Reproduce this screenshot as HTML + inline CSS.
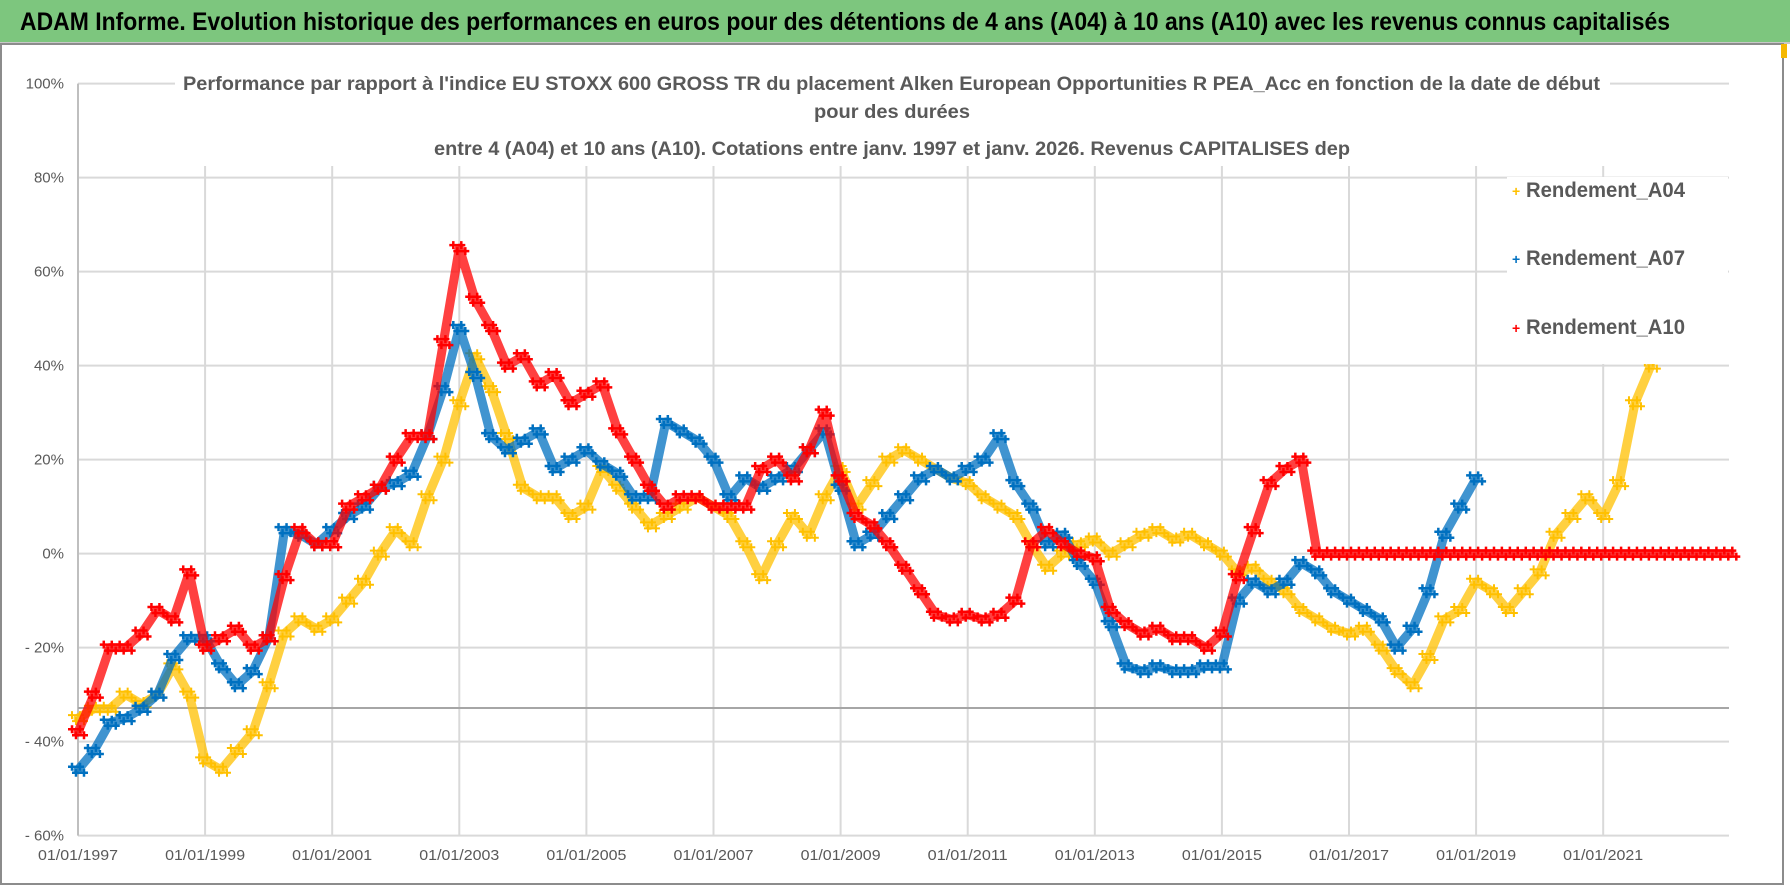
<!DOCTYPE html>
<html><head><meta charset="utf-8">
<style>
html,body{margin:0;padding:0;background:#fff;}
svg{display:block;font-family:"Liberation Sans",sans-serif;}
</style></head>
<body>
<svg id="chart" width="1790" height="886" viewBox="0 0 1790 886" xmlns="http://www.w3.org/2000/svg">
<rect x="0" y="0" width="1790" height="886" fill="#fff"/>
<rect x="0" y="0" width="1790" height="43" fill="#7dc67e"/>
<line x1="0" y1="43" x2="1790" y2="43" stroke="#c8c8c8" stroke-width="2"/>
<text x="20" y="30" font-size="25" font-weight="bold" fill="#000" textLength="1650" lengthAdjust="spacingAndGlyphs">ADAM Informe. Evolution historique des performances en euros pour des détentions de 4 ans (A04) à 10 ans (A10) avec les revenus connus capitalisés</text>
<rect x="1" y="44" width="1782" height="840" fill="none" stroke="#8c8c8c" stroke-width="2"/>
<rect x="1781" y="44" width="6" height="14" fill="#f5b800"/>
<g id="grid"></g>
<line x1="78" y1="708" x2="1729" y2="708" stroke="#a6a6a6" stroke-width="2"/>
<g id="yticks"></g>
<g id="xticks"></g>
<g id="series"></g>
<rect x="175" y="66" width="1435" height="100" fill="#fff"/>
<text x="183" y="90" font-size="19" font-weight="bold" fill="#595959" textLength="1417" lengthAdjust="spacingAndGlyphs">Performance par rapport à l'indice EU STOXX 600 GROSS TR  du placement Alken European Opportunities R PEA_Acc en fonction de la date de début</text>
<text x="814" y="118" font-size="19" font-weight="bold" fill="#595959" textLength="156" lengthAdjust="spacingAndGlyphs">pour des durées</text>
<text x="434" y="155" font-size="19" font-weight="bold" fill="#595959" textLength="916" lengthAdjust="spacingAndGlyphs">entre 4 (A04) et 10 ans (A10).  Cotations entre janv. 1997 et janv. 2026. Revenus CAPITALISES dep</text>
<g>
<rect x="1507" y="177" width="221" height="187" fill="#fff"/>
<g><text x="1512" y="196" font-size="14" fill="#ffc000" font-weight="bold">+</text><text x="1526" y="197" font-size="21" font-weight="bold" fill="#595959" textLength="159" lengthAdjust="spacingAndGlyphs">Rendement_A04</text></g>
<g><text x="1512" y="264" font-size="14" fill="#0070c0" font-weight="bold">+</text><text x="1526" y="265" font-size="21" font-weight="bold" fill="#595959" textLength="159" lengthAdjust="spacingAndGlyphs">Rendement_A07</text></g>
<g><text x="1512" y="333" font-size="14" fill="#ff0000" font-weight="bold">+</text><text x="1526" y="334" font-size="21" font-weight="bold" fill="#595959" textLength="159" lengthAdjust="spacingAndGlyphs">Rendement_A10</text></g>
</g>
</svg>
<script>
const yTickValues = [-60,-40,-20,0,20,40,60,80,100];
const yTickLabels = ["- 60%","- 40%","- 20%","0%","20%","40%","60%","80%","100%"];
const xTickYears = [1997,1999,2001,2003,2005,2007,2009,2011,2013,2015,2017,2019,2021];
const xTickLabels = ["01/01/1997","01/01/1999","01/01/2001","01/01/2003","01/01/2005","01/01/2007","01/01/2009","01/01/2011","01/01/2013","01/01/2015","01/01/2017","01/01/2019","01/01/2021"];
const startYear = 1997;
const stepYears = 0.25;
const a04Values = [-35,-33,-33,-30,-32,-30,-24,-30,-44,-46,-42,-38,-28,-17,-14,-16,-14,-10,-6,0,5,2,12,20,32,42,35,25,14,12,12,8,10,18,14,10,6,8,10,12,10,8,2,-5,2,8,4,12,18,10,15,20,22,20,18,16,15,12,10,8,2,-3,0,2,3,0,2,4,5,3,4,2,0,-4,-3,-6,-8,-12,-14,-16,-17,-16,-20,-25,-28,-22,-14,-12,-6,-8,-12,-8,-4,4,8,12,8,15,32,40];
const a07Values = [-46,-42,-36,-35,-33,-30,-22,-18,-18,-24,-28,-25,-18,5,4,2,5,8,10,14,15,17,25,35,48,38,25,22,24,26,18,20,22,19,17,12,12,28,26,24,20,12,16,14,16,18,22,26,14,2,4,8,12,16,18,16,18,20,25,15,10,2,4,-2,-6,-15,-24,-25,-24,-25,-25,-24,-24,-10,-6,-8,-6,-2,-4,-8,-10,-12,-14,-20,-16,-8,4,10,16];
const a10Values = [-38,-30,-20,-20,-17,-12,-14,-4,-20,-18,-16,-20,-18,-5,5,2,2,10,12,14,20,25,25,45,65,54,48,40,42,36,38,32,34,36,26,20,14,10,12,12,10,10,10,18,20,16,22,30,16,8,6,2,-3,-8,-13,-14,-13,-14,-13,-10,2,5,2,0,-1,-12,-15,-17,-16,-18,-18,-20,-17,-5,5,15,18,20,0,0,0,0,0,0,0,0,0,0,0,0,0,0,0,0,0,0,0,0,0,0,0,0,0,0,0];

const NS="http://www.w3.org/2000/svg";
const X0=78, X1=1729, PXYEAR=63.55, Y0=553.6, PXPCT=4.7;
function xScale(year){return X0+(year-1997)*PXYEAR;}
function yScale(v){return Y0-v*PXPCT;}
function mk(tag,attrs,parent){const e=document.createElementNS(NS,tag);for(const k in attrs)e.setAttribute(k,attrs[k]);parent.appendChild(e);return e;}

const grid=document.getElementById('grid');
yTickValues.forEach(v=>{
  const l=mk('line',{x1:X0,x2:X1,y1:yScale(v),y2:yScale(v),stroke:'#d9d9d9','stroke-width':2},grid);
  
  
});
xTickYears.forEach(y=>{
  if(y===1997)return;
  const l=mk('line',{x1:xScale(y),x2:xScale(y),y1:yScale(100),y2:yScale(-60),stroke:'#d9d9d9','stroke-width':2},grid);
  
  
});
const ax=mk('line',{x1:X0,x2:X0,y1:yScale(100),y2:yScale(-60),stroke:'#bfbfbf','stroke-width':2},grid);



const yt=document.getElementById('yticks');
yTickValues.forEach((v,i)=>{
  const t=mk('text',{x:64,y:yScale(v)+5,'font-size':15,fill:'#595959','text-anchor':'end'},yt);
  t.textContent=yTickLabels[i];
  
  
});
const xt=document.getElementById('xticks');
xTickYears.forEach((y,i)=>{
  const t=mk('text',{x:xScale(y),y:860,'font-size':15,fill:'#595959','text-anchor':'middle',textLength:80,lengthAdjust:'spacingAndGlyphs'},xt);
  t.textContent=xTickLabels[i];
  
  
});

const ser=document.getElementById('series');
function drawSeries(vals,color,name,sw){
  const g=mk('g',{},ser);
  
  
  let ld='';
  vals.forEach((v,i)=>{ld+=(i?'L':'M')+xScale(startYear+i*stepYears)+' '+yScale(v);});
  const band=mk('path',{d:ld,stroke:color,'stroke-width':9,fill:'none','stroke-linejoin':'round','stroke-linecap':'round',opacity:0.75},g);
  
  
  vals.forEach((v,i)=>{
    const cx=xScale(startYear+i*stepYears), cy=yScale(v);
    let d='';
    [[-6,-3],[-2,3],[2,-3],[6,3]].forEach(o=>{const x=cx+o[0],y=cy+o[1];d+=`M${x-4} ${y}H${x+4}M${x} ${y-4}V${y+4}`;});
    const p=mk('path',{d:d,stroke:color,'stroke-width':sw,fill:'none'},g);
    
    
  });
}
drawSeries(a04Values,'#ffc000','series-a04',2);
drawSeries(a07Values,'#0070c0','series-a07',2.5);
drawSeries(a10Values,'#ff0000','series-a10',2.5);
</script>
</body></html>
